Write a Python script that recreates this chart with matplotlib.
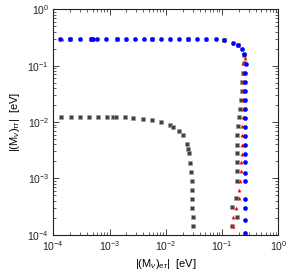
import matplotlib
matplotlib.use("Agg")
import matplotlib.pyplot as plt
from matplotlib.ticker import LogLocator, NullFormatter

plt.rcParams['font.family'] = ['Liberation Sans', 'DejaVu Sans']
plt.rcParams['mathtext.fontset'] = 'custom'
plt.rcParams['mathtext.rm'] = 'Liberation Sans'
plt.rcParams['mathtext.it'] = 'Liberation Sans:italic'
plt.rcParams['mathtext.bf'] = 'Liberation Sans:bold'

# gray series: lower branch
gray_low_x = [1.37e-4, 2.06e-4, 2.98e-4, 4.37e-4, 6.31e-4, 8.89e-4, 1.14e-3, 1.30e-3, 1.88e-3, 2.64e-3,
              3.98e-3, 5.75e-3, 8.32e-3, 0.0120, 0.0136, 0.0174, 0.0200, 0.0236, 0.0251, 0.0258,
              0.0273, 0.0281, 0.0288, 0.0292, 0.0296, 0.0296, 0.0301, 0.0301]
gray_low_y = [0.0121, 0.0121, 0.0121, 0.0121, 0.0121, 0.0121, 0.0121, 0.0121, 0.0121, 0.0120,
              0.0113, 0.0107, 0.0100, 0.00885, 0.00815, 0.00692, 0.00581, 0.00402, 0.00328, 0.00278,
              0.00190, 0.00131, 9.08e-4, 6.21e-4, 4.35e-4, 3.01e-4, 2.06e-4, 1.43e-4]
# gray series: upper branch
gray_up_x = [1.98e-4, 4.6e-4, 1.34e-3, 5.75e-3, 0.0251, 0.110, 0.194, 0.246, 0.246, 0.233, 0.223, 0.223,
             0.215, 0.206, 0.200, 0.194, 0.187, 0.187, 0.187, 0.187, 0.185, 0.185, 0.179,
             0.152, 0.182, 0.149]
gray_up_y = [0.301, 0.301, 0.301, 0.301, 0.301, 0.282, 0.230, 0.155, 0.110, 0.0750, 0.0519, 0.0359,
             0.0249, 0.0172, 0.0121, 0.00839, 0.00595, 0.00395, 0.00278, 0.00194, 0.00133, 9.08e-4, 4.43e-4,
             3.06e-4, 2.09e-4, 1.44e-4]
# red series
red_x = [1.41e-4, 5.01e-4, 1.96e-3, 0.0120, 0.0519, 0.158, 0.256, 0.239, 0.240, 0.240, 0.240, 0.238, 0.236,
         0.233, 0.230, 0.223, 0.223, 0.223, 0.215, 0.217, 0.211, 0.204, 0.198, 0.177, 0.157, 0.154]
red_y = [0.301, 0.301, 0.301, 0.301, 0.301, 0.255, 0.135, 0.110, 0.0750, 0.0519, 0.0359, 0.0249, 0.0172,
         0.0121, 0.00839, 0.00595, 0.00395, 0.00276, 0.00193, 0.00133, 9.08e-4, 6.2e-4, 4.43e-4,
         3.01e-4, 2.06e-4, 1.44e-4]
# blue series
blue_x = [1.31e-4, 1.98e-4, 2.98e-4, 4.62e-4, 5.14e-4, 6.06e-4, 8.65e-4, 1.34e-3, 1.96e-3, 2.80e-3,
          4.10e-3, 5.75e-3, 8.32e-3, 0.0120, 0.0174, 0.0251, 0.0359, 0.0519, 0.0771, 0.110,
          0.158, 0.194, 0.229, 0.249, 0.267, 0.256, 0.256, 0.256, 0.256, 0.256, 0.256, 0.256,
          0.256, 0.256, 0.256, 0.256, 0.260, 0.256, 0.256, 0.256, 0.256, 0.256]
blue_y = [0.301, 0.301, 0.301, 0.301, 0.301, 0.301, 0.301, 0.301, 0.301, 0.301,
          0.301, 0.301, 0.301, 0.301, 0.301, 0.301, 0.300, 0.298, 0.294, 0.282,
          0.255, 0.230, 0.195, 0.159, 0.106, 0.0750, 0.0519, 0.0359, 0.0249, 0.0172, 0.0119, 8.25e-3,
          5.71e-3, 3.95e-3, 2.76e-3, 1.93e-3, 1.22e-3, 8.97e-4, 4.30e-4, 2.98e-4, 1.82e-4, 1.08e-4]

xlabel = r'$|(\mathrm{M}_{\nu})_{\mathrm{e}\tau}|$  [eV]'
ylabel = r'$|(\mathrm{M}_{\nu})_{\tau\tau}|$  [eV]'

fig = plt.figure(figsize=(2.89, 2.75), dpi=100)
ax = fig.add_axes([0.1844, 0.1465, 0.7785, 0.8196])

ax.plot(gray_low_x, gray_low_y, ls='none', marker='s', ms=2.5, mfc='#404040', mec='#a0a0a0', mew=0.5)
ax.plot(gray_up_x, gray_up_y, ls='none', marker='s', ms=2.5, mfc='#404040', mec='#a0a0a0', mew=0.5)
ax.plot(red_x, red_y, ls='none', marker='^', ms=2.4, mfc='#ff0000', mec='#ff3030', mew=0.3)
ax.plot(blue_x, blue_y, ls='none', marker='o', ms=3.0, mfc='#0000ff', mec='#0000ff', mew=0.3)

ax.set_xscale('log')
ax.set_yscale('log')
ax.set_xlim(1e-4, 1)
ax.set_ylim(1e-4, 1)

for a in (ax.xaxis, ax.yaxis):
    a.set_major_locator(LogLocator(base=10, numticks=10))
    a.set_minor_locator(LogLocator(base=10, subs=range(2, 10), numticks=10))
    a.set_minor_formatter(NullFormatter())

ax.tick_params(which='both', direction='in', top=True, right=True, labelsize=7.5, colors='#222222', pad=3)
ax.tick_params(which='major', length=4, width=0.6)
ax.tick_params(which='minor', length=2, width=0.5)
for s in ax.spines.values():
    s.set_linewidth(0.8)
    s.set_color('#222222')

ax.set_xlabel(xlabel, fontsize=8, labelpad=3)
ax.set_ylabel(ylabel, fontsize=8, labelpad=4)

fig.savefig('out.png', dpi=100)
